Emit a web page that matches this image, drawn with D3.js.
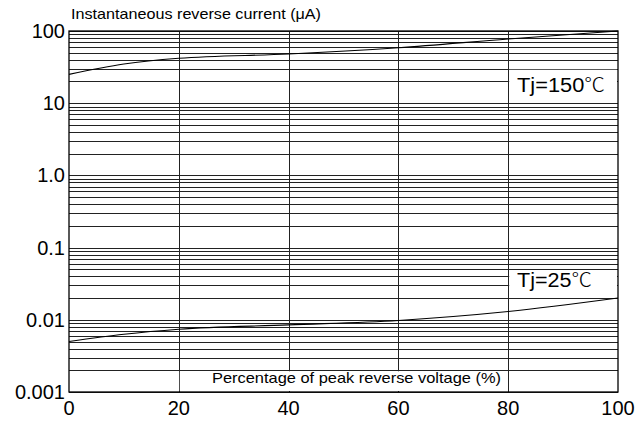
<!DOCTYPE html>
<html>
<head>
<meta charset="utf-8">
<script src="https://cdn.jsdelivr.net/npm/d3@7"></script>
<style>
  body { margin: 0; background: #fff; }
  text { font-family: "Liberation Sans", Arial, sans-serif; fill: #000; }
</style>
</head>
<body>
<div id="chart"></div>
<script>
// Data
const pct = [0, 10, 20, 40, 60, 80, 100];
const current150 = [25.1, 34.9, 41.9, 48, 58.7, 77.5, 100];
const current25 = [0.0050, 0.0063, 0.0074, 0.0085, 0.0098, 0.0130, 0.0200];
const yTicks = [0.001, 0.01, 0.1, 1, 10, 100];
const yTickLabels = ["0.001", "0.01", "0.1", "1.0", "10", "100"];
const xTicks = [0, 20, 40, 60, 80, 100];

// Chart dimensions
const margin = { top: 31, right: 22, bottom: 29, left: 69 };
const width = 640 - margin.left - margin.right;
const height = 421 - margin.top - margin.bottom;

const svg = d3.select("#chart")
    .append("svg")
    .attr("width", 640)
    .attr("height", 421)
    .append("g")
    .attr("transform", `translate(${margin.left},${margin.top})`);

// Scales
const xScale = d3.scaleLinear().domain([0, 100]).range([0, width]);
const yScale = d3.scaleLog().domain([0.001, 100]).range([height, 0]);

// Horizontal grid: 1..9 in every decade
const minor = [];
[0.001, 0.01, 0.1, 1, 10].forEach(d => {
    for (let k = 1; k < 10; k++) minor.push(+(d * k).toPrecision(3));
});
minor.push(100);

svg.append("g")
    .call(d3.axisLeft(yScale).tickValues(minor).tickSize(-width).tickFormat(""))
    .call(g => g.select(".domain").remove())
    .call(g => g.selectAll("line").attr("stroke", "#222").attr("shape-rendering", "crispEdges"));

// Vertical grid
svg.append("g")
    .call(d3.axisBottom(xScale).tickValues([20, 40, 60, 80]).tickSize(height).tickFormat(""))
    .call(g => g.select(".domain").remove())
    .call(g => g.selectAll("line").attr("stroke", "#222").attr("shape-rendering", "crispEdges"));

// White boxes behind the labels
svg.append("rect")
    .attr("x", xScale(80) + 1).attr("y", yScale(30) + 1)
    .attr("width", xScale(100) - xScale(80) - 2).attr("height", yScale(10) - yScale(30) - 2)
    .attr("fill", "#fff");

svg.append("rect")
    .attr("x", xScale(80) + 1).attr("y", yScale(0.05) + 1)
    .attr("width", xScale(100) - xScale(80) - 2).attr("height", yScale(0.02) - yScale(0.05) - 2)
    .attr("fill", "#fff");

svg.append("rect")
    .attr("x", xScale(20) + 1).attr("y", yScale(0.002) + 1)
    .attr("width", xScale(80) - xScale(20) - 2).attr("height", height - yScale(0.002) - 2)
    .attr("fill", "#fff");

// Curves
const line = d3.line()
    .x((d, i) => xScale(pct[i]))
    .y(d => yScale(d))
    .curve(d3.curveMonotoneX);

[current150, current25].forEach(series => {
    svg.append("path")
        .datum(series)
        .attr("fill", "none")
        .attr("stroke", "#000")
        .attr("stroke-width", 1.1)
        .attr("d", line);
});

// Frame
svg.append("rect")
    .attr("width", width).attr("height", height)
    .attr("fill", "none").attr("stroke", "#000").attr("stroke-width", 1.3);

// Y tick labels
svg.append("g")
    .selectAll("text")
    .data(yTicks)
    .enter()
    .append("text")
    .attr("x", -4)
    .attr("y", d => yScale(d) + 7)
    .attr("text-anchor", "end")
    .style("font-size", "20px")
    .text((d, i) => yTickLabels[i]);

// X tick labels
svg.append("g")
    .selectAll("text")
    .data(xTicks)
    .enter()
    .append("text")
    .attr("x", d => xScale(d))
    .attr("y", height + 23)
    .attr("text-anchor", "middle")
    .style("font-size", "20px")
    .text(d => d);

// Axis titles
svg.append("text")
    .attr("x", 2)
    .attr("y", -12)
    .attr("textLength", 250)
    .attr("lengthAdjust", "spacingAndGlyphs")
    .style("font-size", "14.5px")
    .text("Instantaneous reverse current (μA)");

svg.append("text")
    .attr("x", 143)
    .attr("y", height - 9)
    .attr("textLength", 289)
    .attr("lengthAdjust", "spacingAndGlyphs")
    .style("font-size", "15px")
    .text("Percentage of peak reverse voltage (%)");

// Temperature labels
const tLabel = (txt, y, len) => {
    const t = svg.append("text")
        .attr("x", 448)
        .attr("y", y)
        .attr("textLength", len)
        .attr("lengthAdjust", "spacingAndGlyphs")
        .style("font-size", "20px");
    t.append("tspan").text(txt);
    t.append("tspan")
        .style("font-family", "'Noto Sans CJK SC', sans-serif")
        .style("font-weight", "300")
        .style("font-size", "19px")
        .text("℃");
};
tLabel("Tj=150", 61, 88);
tLabel("Tj=25", 256, 75);
</script>
</body>
</html>
